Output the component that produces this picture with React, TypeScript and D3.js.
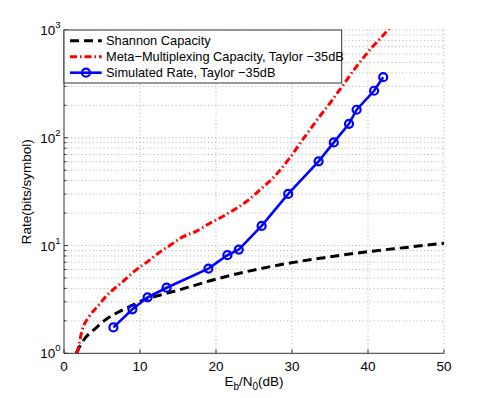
import React from "react";
import * as d3 from "d3";

const xTicks = [0, 10, 20, 30, 40, 50];
const yTickExps = [0, 1, 2, 3];

const shannonX = [1.6, 2.6, 4.0, 5.3, 7.0, 8.8, 10.5, 12.7, 15.3, 19.6, 24.0, 30, 35, 40, 45, 50];
const shannonY = [1.0, 1.33, 1.67, 2.01, 2.38, 2.75, 3.13, 3.48, 3.9, 4.79, 5.72, 6.94, 7.85, 8.77, 9.6, 10.5];

const metaX = [1.75, 2.4, 3.3, 4.4, 5.7, 7.5, 9.2, 11.0, 12.7, 14.0, 15.3, 17.5, 19.2, 21.0, 22.7, 24.3, 25.8, 27.3, 28.2, 29.7, 31.5, 33.25, 35.0, 36.75, 38.5, 40.3, 42.5, 43.0];
const metaY = [1.0, 1.65, 2.19, 2.71, 3.48, 4.47, 5.72, 7.09, 8.78, 10.1, 11.7, 13.7, 16.1, 18.8, 22.2, 26.5, 33, 41, 48, 65, 98, 145, 210, 310, 460, 660, 980, 1080];

const simX = [6.5, 9, 11, 13.5, 19, 21.5, 23, 26, 29.5, 33.5, 35.5, 37.5, 38.5, 40.8, 42];
const simY = [1.74, 2.56, 3.31, 4.06, 6.11, 8.13, 9.18, 15.2, 30.1, 60.5, 90.6, 134.6, 182, 273, 365];

const legendLabels = [
  "Shannon Capacity",
  "Meta\u2212Multiplexing Capacity, Taylor \u221235dB",
  "Simulated Rate, Taylor \u221235dB",
];

const FONT = "'Liberation Sans', Arial, Helvetica, sans-serif";

export default function App() {
  const W = 491, H = 398;
  const L = 64, R = 444, T = 30, B = 353.3;
  const x = d3.scaleLinear().domain([0, 50]).range([L, R]);
  const y = d3.scaleLog().domain([1, 1000]).range([B, T]);

  const smooth = d3.line<[number, number]>().x(d => x(d[0])).y(d => y(d[1])).curve(d3.curveMonotoneX);
  const straight = d3.line<[number, number]>().x(d => x(d[0])).y(d => y(d[1]));
  const shannon = smooth(shannonX.map((v, i) => [v, shannonY[i]]));
  const meta = smooth(metaX.map((v, i) => [v, metaY[i]]));
  const sim = straight(simX.map((v, i) => [v, simY[i]]));

  const minorY: number[] = [];
  for (let d = 0; d < 3; d++) for (let k = 2; k <= 9; k++) minorY.push(k * Math.pow(10, d));
  const majorY = yTickExps.map(e => Math.pow(10, e));

  const gridStyle = { stroke: "#9a9a9a", strokeWidth: 0.8, strokeDasharray: "1,2.6" };

  return (
    <svg width={W} height={H} style={{ position: "absolute", left: 0, top: 0, background: "#fff" }} fontFamily={FONT}>
      <defs>
        <clipPath id="plotclip">
          <rect x={L} y={T - 1} width={R - L} height={B - T + 1} />
        </clipPath>
      </defs>
      <rect x={0} y={0} width={W} height={H} fill="#fff" />
      {xTicks.filter(t => t > 0).map(t => (
        <line key={"gx" + t} x1={x(t)} x2={x(t)} y1={T} y2={B} {...gridStyle} />
      ))}
      {[...minorY, ...majorY.filter(v => v > 1)].map(v => (
        <line key={"gy" + v} x1={L} x2={R} y1={y(v)} y2={y(v)} {...gridStyle} />
      ))}
      <line x1={L} x2={L} y1={T} y2={B} stroke="#333" strokeWidth={1} />
      <line x1={L} x2={R} y1={B} y2={B} stroke="#333" strokeWidth={1} />
      {xTicks.map(t => (
        <line key={"tx" + t} x1={x(t)} x2={x(t)} y1={B} y2={B - 4} stroke="#333" strokeWidth={1} />
      ))}
      {majorY.map(v => (
        <line key={"ty" + v} x1={L} x2={L + 4} y1={y(v)} y2={y(v)} stroke="#333" strokeWidth={1} />
      ))}
      {minorY.map(v => (
        <line key={"tmy" + v} x1={L} x2={L + 2.5} y1={y(v)} y2={y(v)} stroke="#333" strokeWidth={1} />
      ))}
      {xTicks.map(t => (
        <text key={"lx" + t} x={x(t)} y={370.8} textAnchor="middle" fontSize={13.5} fill="#000">{t}</text>
      ))}
      {yTickExps.map(e => (
        <text key={"ly" + e} x={L - 3.5} y={y(Math.pow(10, e)) + 5} textAnchor="end" fontSize={13.5} fill="#000">
          10<tspan fontSize={9.5} dy={-7}>{e}</tspan>
        </text>
      ))}
      <text x={(L + R) / 2} y={386} textAnchor="middle" fontSize={13.5} fill="#000">
        E<tspan fontSize={10} dy={4}>b</tspan><tspan dy={-4}>/N</tspan><tspan fontSize={10} dy={4}>0</tspan><tspan dy={-4}>(dB)</tspan>
      </text>
      <text transform={`translate(30.7,${(T + B) / 2}) rotate(-90)`} textAnchor="middle" fontSize={13.5} fill="#000">
        Rate(bits/symbol)
      </text>
      <g clipPath="url(#plotclip)">
        <path d={shannon || ""} fill="none" stroke="#000" strokeWidth={3} strokeDasharray="9,5" />
        <path d={meta || ""} fill="none" stroke="#ff0000" strokeWidth={3} strokeDasharray="7,3,1.5,3" />
        <path d={sim || ""} fill="none" stroke="#0000ff" strokeWidth={2.6} />
        {simX.map((v, i) => (
          <circle key={"c" + i} cx={x(v)} cy={y(simY[i])} r={4} fill="none" stroke="#0000ff" strokeWidth={2.2} />
        ))}
      </g>
      <rect x={L} y={T} width={277.7} height={53} fill="#fff" stroke="#333" strokeWidth={1} />
      {legendLabels.map((lab, i) => {
        const cy = 40.7 + i * 16;
        return (
          <g key={"lg" + i}>
            {i === 0 && <line x1={70} x2={101.7} y1={cy} y2={cy} stroke="#000" strokeWidth={3} strokeDasharray="9,5" />}
            {i === 1 && <line x1={70} x2={101.7} y1={cy} y2={cy} stroke="#ff0000" strokeWidth={3} strokeDasharray="7,3,1.5,3" />}
            {i === 2 && (
              <g>
                <line x1={70} x2={101.7} y1={cy} y2={cy} stroke="#0000ff" strokeWidth={2.6} />
                <circle cx={86} cy={cy} r={4} fill="none" stroke="#0000ff" strokeWidth={2.2} />
              </g>
            )}
            <text x={106} y={cy + 4.6} fontSize={12.8} fill="#000">{lab}</text>
          </g>
        );
      })}
    </svg>
  );
}
